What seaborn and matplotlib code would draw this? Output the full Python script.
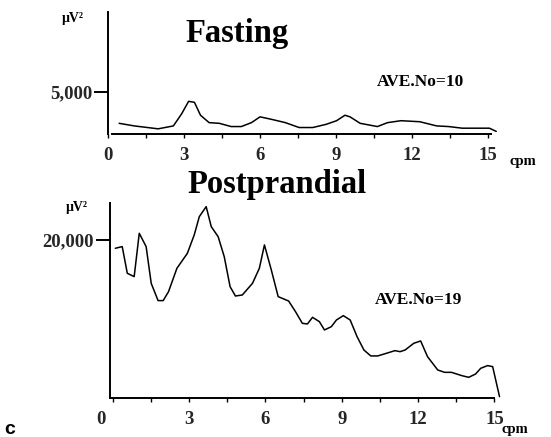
import numpy as np
import pandas as pd
import matplotlib
matplotlib.use("Agg")
import matplotlib.pyplot as plt
import matplotlib.transforms as mtransforms
from matplotlib.ticker import FixedLocator
import seaborn as sns

# ---------------- data ----------------
fast_cpm = [0.44, 1.04, 1.98, 2.58, 2.91, 3.18, 3.41, 3.65, 3.99, 4.39, 4.86, 5.26,
            5.66, 6.00, 6.47, 7.00, 7.54, 8.08, 8.61, 9.02, 9.35, 9.55, 9.95, 10.63,
            11.03, 11.56, 12.30, 12.97, 13.44, 13.98, 15.05, 15.32]
fast_pow = [1270, 960, 615, 960, 2420, 3880, 3770, 2230, 1350, 1270, 885, 885,
            1350, 2040, 1730, 1350, 770, 770, 1150, 1580, 2230, 2040, 1270, 885,
            1350, 1580, 1460, 960, 885, 690, 690, 310]

post_cpm = [0.10, 0.37, 0.57, 0.84, 1.04, 1.31, 1.51, 1.78, 1.98, 2.19, 2.52, 2.93,
            3.20, 3.40, 3.67, 3.87, 4.14, 4.38, 4.61, 4.82, 5.09, 5.49, 5.76, 5.96,
            6.23, 6.50, 6.91, 7.18, 7.45, 7.65, 7.85, 8.12, 8.32, 8.59, 8.79, 9.06,
            9.33, 9.60, 9.87, 10.14, 10.41, 10.75, 11.09, 11.29, 11.49, 11.83, 12.10,
            12.37, 12.77, 13.04, 13.31, 13.72, 13.99, 14.26, 14.46, 14.73, 14.93, 15.20]
post_pow = [18950, 19160, 15790, 15370, 20840, 19160, 14520, 12340, 12340, 13470,
            16420, 18310, 20630, 22940, 24210, 21680, 20420, 17890, 14100, 12920,
            13050, 14520, 16420, 19370, 16210, 12840, 12290, 10950, 9470, 9390,
            10230, 9680, 8630, 9050, 9890, 10440, 9890, 7790, 6100, 5350, 5350,
            5680, 6020, 5890, 6100, 6950, 7240, 5260, 3580, 3280, 3280, 2860,
            2650, 3070, 3790, 4130, 4000, 210]

x_ticks = [0, 3, 6, 9, 12, 15]
x_tick_labels = ["0", "3", "6", "9", "12", "15"]
x_minor_ticks = [1.5, 4.5, 7.5, 10.5, 13.5]
fast_yticks = [5000]
fast_ytick_labels = ["5,000"]
post_yticks = [20000]
post_ytick_labels = ["20,000"]
titles = ["Fasting", "Postprandial"]
ave_labels = ["AVE.No=10", "AVE.No=19"]

# ---------------- style ----------------
sns.set_style("white")
plt.rcParams["font.family"] = ["Liberation Serif", "DejaVu Serif"]
plt.rcParams["font.weight"] = "bold"

W, H = 551, 437
fig = plt.figure(figsize=(W / 100, H / 100), dpi=100)
fig.patch.set_facecolor("white")


def fx(px):
    return px / W


def fy(py):
    return 1 - py / H


def make_axes(left, right, bottom, top):
    return fig.add_axes([fx(left), fy(bottom), (right - left) / W, (bottom - top) / H])


ax1 = make_axes(108, 497, 134, 12)
ax2 = make_axes(110, 500.8, 398.3, 203.3)

df_fast = pd.DataFrame({"cpm": fast_cpm, "power": fast_pow})
df_post = pd.DataFrame({"cpm": post_cpm, "power": post_pow})

sns.lineplot(data=df_fast, x="cpm", y="power", ax=ax1, color="black", lw=1.1)
sns.lineplot(data=df_post, x="cpm", y="power", ax=ax2, color="black", lw=1.1)

setups = [
    (ax1, (0.16, 15.35), (0, 14500), (0.16, 15.12), fast_yticks, fast_ytick_labels),
    (ax2, (-0.11, 15.25), (0, 24630), (-0.11, 15.0), post_yticks, post_ytick_labels),
]
for ax, xl, yl, xb, yt, ytl in setups:
    ax.set_xlim(*xl)
    ax.set_ylim(*yl)
    ax.set_xlabel("")
    ax.set_ylabel("")
    ax.set_facecolor("white")
    for s in ["top", "right"]:
        ax.spines[s].set_visible(False)
    for s in ["left", "bottom"]:
        ax.spines[s].set_color("black")
        ax.spines[s].set_linewidth(1.4)
    ax.spines["bottom"].set_bounds(*xb)
    ax.set_xticks(x_ticks)
    ax.set_xticklabels(x_tick_labels)
    ax.xaxis.set_minor_locator(FixedLocator(x_minor_ticks))
    ax.tick_params(axis="x", which="both", bottom=True, direction="out", length=3,
                   width=1.0, color="black", pad=6, labelsize=13.5)
    ax.set_yticks(yt)
    ax.set_yticklabels(ytl)
    ax.tick_params(axis="y", which="major", left=True, direction="out", length=10,
                   width=1.4, color="black", pad=1.5, labelsize=13.5)
    for lab in ax.get_xticklabels() + ax.get_yticklabels():
        lab.set_fontweight("bold")
        lab.set_fontfamily("Liberation Serif")

# the bottom "0" label sits left of its tick in the original
lab0 = ax2.get_xticklabels()[0]
lab0.set_transform(lab0.get_transform() +
                   mtransforms.ScaledTranslation(-12 / 100, 0, fig.dpi_scale_trans))

# ---------------- texts ----------------
serif = dict(family="Liberation Serif", weight="bold", color="black")
fig.text(fx(185), fy(41.7), titles[0], ha="left", va="baseline", fontsize=23.5, **serif)
fig.text(fx(187), fy(193), titles[1], ha="left", va="baseline", fontsize=23.5, **serif)
fig.text(fx(377), fy(82), ave_labels[0], ha="left", va="center", fontsize=12.5, **serif)
fig.text(fx(375), fy(300), ave_labels[1], ha="left", va="center", fontsize=12.5, **serif)
fig.text(fx(62), fy(22), "μV²", ha="left", va="baseline", fontsize=10, **serif)
fig.text(fx(66), fy(211), "μV²", ha="left", va="baseline", fontsize=10, **serif)
fig.text(fx(509), fy(162), "cpm", ha="left", va="center", fontsize=10.5, **serif)
fig.text(fx(502), fy(429), "cpm", ha="left", va="center", fontsize=10.5, **serif)
fig.text(fx(10), fy(430), "c", ha="center", va="center", fontsize=14,
         family="Liberation Sans", weight="bold", color="black")

fig.savefig("out.png", dpi=100, facecolor="white")
